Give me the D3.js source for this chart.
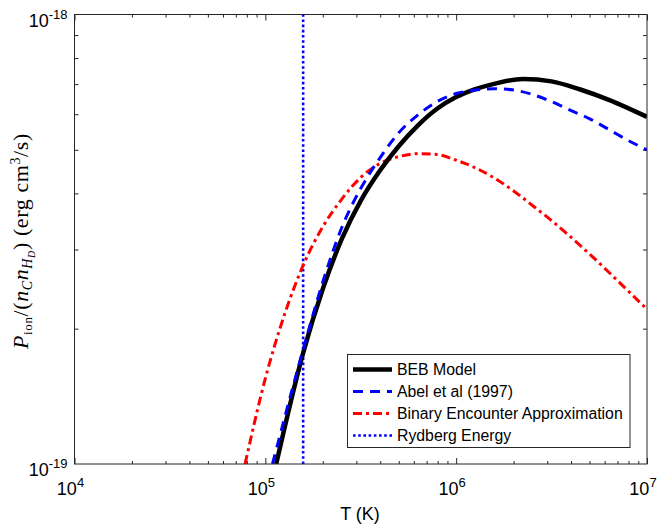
<!DOCTYPE html>
<html>
<head>
<meta charset="utf-8">
<script src="https://cdn.jsdelivr.net/npm/d3@7"></script>
<style>
  body { margin: 0; background: #fff; }
  svg { display: block; }
</style>
</head>
<body>
<div id="chart"></div>
<script>
// data (T in K, rate in erg cm^3/s)
var bebT = [1.14e5, 1.58e5, 2.0e5, 2.51e5, 3.16e5, 3.98e5, 5.01e5, 6.31e5, 7.94e5, 1.0e6, 1.26e6, 1.58e6, 2.24e6, 3.16e6, 4.47e6, 6.31e6, 1e7];
var bebV = [1.0e-19, 1.77e-19, 2.45e-19, 3.16e-19, 3.85e-19, 4.49e-19, 5.10e-19, 5.67e-19, 6.17e-19, 6.55e-19, 6.82e-19, 7.01e-19, 7.19e-19, 7.10e-19, 6.81e-19, 6.46e-19, 5.92e-19];

var abelT = [1.09e5, 1.58e5, 2.0e5, 2.51e5, 3.16e5, 3.98e5, 5.01e5, 6.31e5, 7.94e5, 1.0e6, 1.26e6, 1.58e6, 2.0e6, 2.51e6, 3.16e6, 3.98e6, 5.01e6, 6.31e6, 7.94e6, 1e7];
var abelV = [1.0e-19, 1.80e-19, 2.54e-19, 3.35e-19, 4.10e-19, 4.79e-19, 5.46e-19, 5.98e-19, 6.40e-19, 6.67e-19, 6.79e-19, 6.84e-19, 6.79e-19, 6.64e-19, 6.40e-19, 6.12e-19, 5.86e-19, 5.55e-19, 5.25e-19, 5.00e-19];

var beaT = [7.83e4, 1.0e5, 1.26e5, 1.58e5, 2.0e5, 2.51e5, 3.16e5, 3.98e5, 5.01e5, 6.31e5, 7.94e5, 1.0e6, 1.26e6, 1.58e6, 2.0e6, 2.51e6, 3.16e6, 3.98e6, 5.01e6, 6.31e6, 7.94e6, 1e7];
var beaV = [1.0e-19, 1.55e-19, 2.15e-19, 2.77e-19, 3.37e-19, 3.88e-19, 4.34e-19, 4.66e-19, 4.83e-19, 4.90e-19, 4.88e-19, 4.74e-19, 4.56e-19, 4.33e-19, 4.05e-19, 3.76e-19, 3.48e-19, 3.20e-19, 2.93e-19, 2.67e-19, 2.43e-19, 2.21e-19];

var rydbergT = 1.578e5;

var xMajor = [1e4, 1e5, 1e6, 1e7];
var xMajorExp = ["4", "5", "6", "7"];
var yMajor = [1e-19, 1e-18];
var yMajorExp = ["-19", "-18"];

var legendLabels = ["BEB Model", "Abel et al (1997)", "Binary Encounter Approximation", "Rydberg Energy"];

// size of the picture and the axes box
var W = 659, H = 529;
var box = { left: 74.5, right: 647, top: 14.5, bottom: 464 };
var axisColor = "#262626";

var svg = d3.select("#chart")
    .append("svg")
    .attr("width", W)
    .attr("height", H);

var x = d3.scaleLog().domain([1e4, 1e7]).range([box.left, box.right]);
var y = d3.scaleLog().domain([1e-19, 1e-18]).range([box.bottom, box.top]);

// minor ticks 2..9 of every decade
var xMinor = [];
[1e4, 1e5, 1e6].forEach(function (d) {
    for (var k = 2; k <= 9; k++) xMinor.push(d * k);
});
var yMinor = [];
for (var k = 2; k <= 9; k++) yMinor.push(1e-19 * k);

function styleAxis(g) {
    g.select(".domain").remove();
    g.selectAll("line").attr("stroke", axisColor).attr("stroke-width", 1);
}

// ticks pointing inward, on all four sides
svg.append("g").attr("transform", "translate(0," + box.bottom + ")")
    .call(d3.axisBottom(x).tickValues(xMajor).tickSize(-6).tickFormat("")).call(styleAxis);
svg.append("g").attr("transform", "translate(0," + box.bottom + ")")
    .call(d3.axisBottom(x).tickValues(xMinor).tickSize(-3).tickFormat("")).call(styleAxis);
svg.append("g").attr("transform", "translate(0," + box.top + ")")
    .call(d3.axisTop(x).tickValues(xMajor).tickSize(-6).tickFormat("")).call(styleAxis);
svg.append("g").attr("transform", "translate(0," + box.top + ")")
    .call(d3.axisTop(x).tickValues(xMinor).tickSize(-3).tickFormat("")).call(styleAxis);
svg.append("g").attr("transform", "translate(" + box.left + ",0)")
    .call(d3.axisLeft(y).tickValues(yMinor).tickSize(-4).tickFormat("")).call(styleAxis);
svg.append("g").attr("transform", "translate(" + box.right + ",0)")
    .call(d3.axisRight(y).tickValues(yMinor).tickSize(-4).tickFormat("")).call(styleAxis);

// clip for the curves
svg.append("clipPath").attr("id", "clip")
    .append("rect")
    .attr("x", box.left).attr("y", box.top)
    .attr("width", box.right - box.left).attr("height", box.bottom - box.top);

var line = d3.line()
    .curve(d3.curveMonotoneX)
    .x(function (d) { return x(d[0]); })
    .y(function (d) { return y(d[1]); });

var plot = svg.append("g").attr("clip-path", "url(#clip)");

// Rydberg energy line
plot.append("line")
    .attr("x1", x(rydbergT)).attr("x2", x(rydbergT))
    .attr("y1", y(1e-19)).attr("y2", y(1e-18))
    .attr("stroke", "#0000ff")
    .attr("stroke-width", 2.6)
    .attr("stroke-dasharray", "2.6,2.6");

// binary encounter approximation
plot.append("path")
    .datum(d3.zip(beaT, beaV))
    .attr("fill", "none")
    .attr("stroke", "#ff0000")
    .attr("stroke-width", 3)
    .attr("stroke-dasharray", "9,4,3,4")
    .attr("d", line);

// BEB model
plot.append("path")
    .datum(d3.zip(bebT, bebV))
    .attr("fill", "none")
    .attr("stroke", "#000")
    .attr("stroke-width", 4.5)
    .attr("d", line);

// Abel et al
plot.append("path")
    .datum(d3.zip(abelT, abelV))
    .attr("fill", "none")
    .attr("stroke", "#0000ff")
    .attr("stroke-width", 3)
    .attr("stroke-dasharray", "10,7")
    .attr("d", line);

// box
svg.append("rect")
    .attr("x", box.left).attr("y", box.top)
    .attr("width", box.right - box.left).attr("height", box.bottom - box.top)
    .attr("fill", "none")
    .attr("stroke", axisColor)
    .attr("stroke-width", 1);

// tick labels 10^n
var font = "'Liberation Sans', Arial, Helvetica, sans-serif";
xMajor.forEach(function (v, i) {
    var t = svg.append("text")
        .attr("x", x(v) - 4)
        .attr("y", 495)
        .attr("text-anchor", "middle")
        .style("font-family", font)
        .style("font-size", "18px")
        .attr("fill", "#000");
    t.append("tspan").text("10");
    t.append("tspan").attr("dy", -8).style("font-size", "13px").text(xMajorExp[i]);
});
yMajor.forEach(function (v, i) {
    var t = svg.append("text")
        .attr("x", box.left - 7)
        .attr("y", y(v) + 12)
        .attr("text-anchor", "end")
        .style("font-family", font)
        .style("font-size", "18px")
        .attr("fill", "#000");
    t.append("tspan").text("10");
    t.append("tspan").attr("dy", -8).style("font-size", "13px").text(yMajorExp[i]);
});

// axis titles
svg.append("text")
    .attr("x", 360)
    .attr("y", 520)
    .attr("text-anchor", "middle")
    .style("font-family", font)
    .style("font-size", "18px")
    .text("T (K)");

var yl = svg.append("text")
    .attr("transform", "translate(28,241) rotate(-90)")
    .attr("text-anchor", "middle")
    .style("font-family", "'Liberation Serif', 'DejaVu Serif', serif")
    .style("font-size", "22px")
    .style("letter-spacing", "0.6px")
    .attr("fill", "#000");
yl.append("tspan").style("font-style", "italic").text("P");
yl.append("tspan").attr("dy", 4).style("font-size", "13px").text("ion");
yl.append("tspan").attr("dy", -4).text("/(");
yl.append("tspan").style("font-style", "italic").text("n");
yl.append("tspan").attr("dy", 4).style("font-size", "14px").style("font-style", "italic").text("C");
yl.append("tspan").attr("dy", -4).style("font-style", "italic").text("n");
yl.append("tspan").attr("dy", 4).style("font-size", "14px").style("font-style", "italic").text("H");
yl.append("tspan").attr("dy", 3).style("font-size", "10px").style("font-style", "italic").text("D");
yl.append("tspan").attr("dy", -7).text(") (erg cm");
yl.append("tspan").attr("dy", -8).style("font-size", "14px").text("3");
yl.append("tspan").attr("dy", 8).text("/s)");

// legend
var lg = svg.append("g");
lg.append("rect")
    .attr("x", 347.5).attr("y", 354.5)
    .attr("width", 282.5).attr("height", 93)
    .attr("fill", "#fff")
    .attr("stroke", axisColor)
    .attr("stroke-width", 1);

var legendStyles = [
    { color: "#000", width: 4.5, dash: null },
    { color: "#0000ff", width: 3, dash: "10,7" },
    { color: "#ff0000", width: 3, dash: "9,4,3,4" },
    { color: "#0000ff", width: 2.6, dash: "2.6,2.6" }
];
legendLabels.forEach(function (name, i) {
    var yy = 369.5 + i * 22;
    var s = legendStyles[i];
    lg.append("line")
        .attr("x1", 353).attr("x2", 392)
        .attr("y1", yy).attr("y2", yy)
        .attr("stroke", s.color)
        .attr("stroke-width", s.width)
        .attr("stroke-dasharray", s.dash);
    lg.append("text")
        .attr("x", 397)
        .attr("y", yy + 5.5)
        .style("font-family", font)
        .style("font-size", "15.8px")
        .attr("fill", "#000")
        .text(name);
});
</script>
</body>
</html>
